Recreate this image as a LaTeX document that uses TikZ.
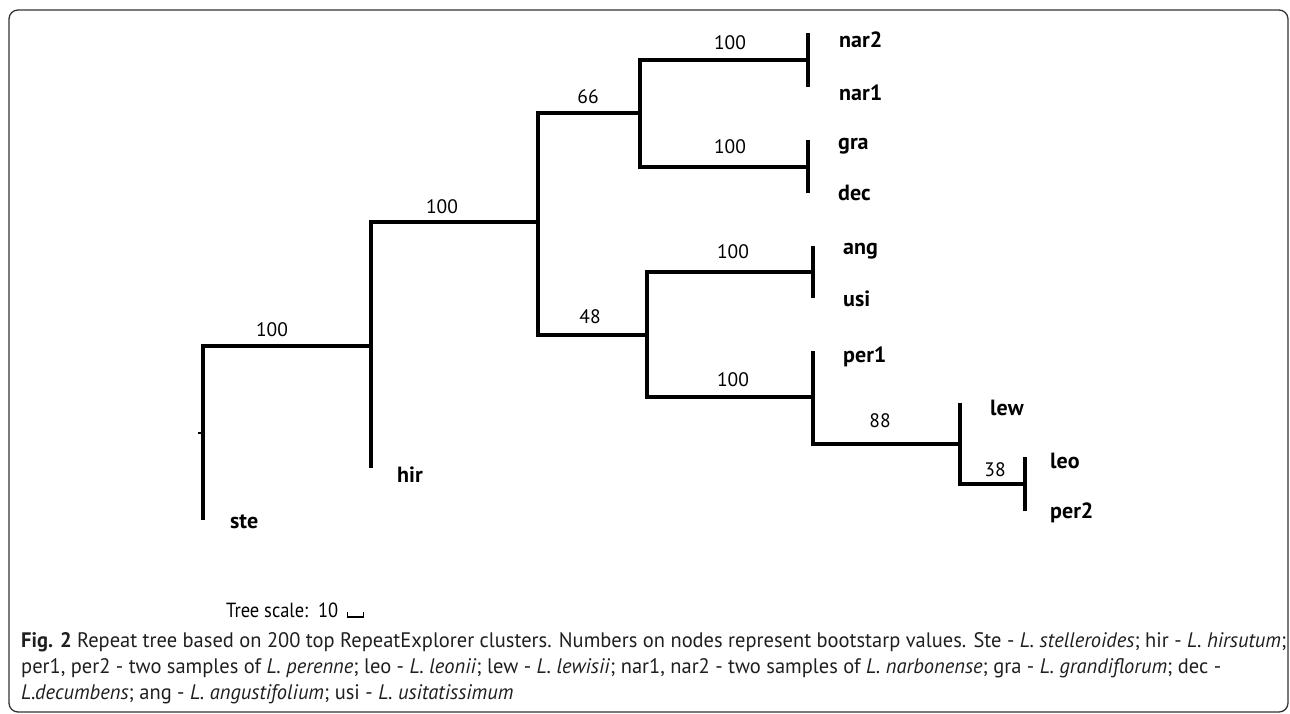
\documentclass[tikz,border=0pt]{standalone}
\usepackage{fontspec}
\setmainfont{PT Sans}
\newfontfamily\capfont[FakeStretch=0.975]{PT Sans}
\newfontfamily\tsfont[FakeStretch=0.9]{PT Sans}
\begin{document}
\begin{tikzpicture}[x=1pt,y=-1pt,
  branch/.style={line width=3.6pt,line join=miter,black},
  leaf/.style={anchor=base west,inner sep=0pt,font=\fontsize{22}{24}\selectfont\bfseries},
  boot/.style={inner sep=0pt,font=\fontsize{19.5}{22}\selectfont},
  capline/.style={anchor=base west,inner sep=0pt,text=black!88,font=\capfont\fontsize{21}{25}\selectfont}]
\useasboundingbox (0,0) rectangle (1290,713);
\draw[line width=1.3pt,black!80,rounded corners=9pt] (9,10) rectangle (1288,712);
% coordinates
\coordinate (n0t) at (203,346); \coordinate (n0b) at (203,520);
\coordinate (n1t) at (371,222); \coordinate (n1m) at (371,346); \coordinate (n1b) at (371,468);
\coordinate (n2t) at (538,113); \coordinate (n2m) at (538,222); \coordinate (n2b) at (538,335);
\coordinate (n3t) at (640,60); \coordinate (n3m) at (640,113); \coordinate (n3b) at (640,167);
\coordinate (n4t) at (647,272); \coordinate (n4m) at (647,335); \coordinate (n4b) at (647,397);
\coordinate (n5t) at (813,351); \coordinate (n5m) at (813,397); \coordinate (n5b) at (813,444);
\coordinate (n6t) at (960,403); \coordinate (n6m) at (960,444); \coordinate (n6b) at (960,484);
\coordinate (t1) at (808,60); \coordinate (t1a) at (808,33); \coordinate (t1b) at (808,87);
\coordinate (t2) at (808,167); \coordinate (t2a) at (808,140); \coordinate (t2b) at (808,193);
\coordinate (t3) at (813,272); \coordinate (t3a) at (813,246); \coordinate (t3b) at (813,298);
\coordinate (t4) at (1025,484); \coordinate (t4a) at (1025,457); \coordinate (t4b) at (1025,511);
\coordinate (tk) at (198,433);
% branches
\draw[branch] (n0b) -- (n0t) -- (n1m);
\draw[branch] (n1b) -- (n1t) -- (n2m);
\draw[branch] (n3m) -- (n2t) -- (n2b) -- (n4m);
\draw[branch] (t1) -- (n3t) -- (n3b) -- (t2);
\draw[branch] (t3) -- (n4t) -- (n4b) -- (n5m);
\draw[branch] (n5t) -- (n5b) -- (n6m);
\draw[branch] (n6t) -- (n6b) -- (t4);
\draw[branch] (t1a) -- (t1b);
\draw[branch] (t2a) -- (t2b);
\draw[branch] (t3a) -- (t3b);
\draw[branch] (t4a) -- (t4b);
\draw[line width=2pt] (tk) -- (n0t |- tk);
% leaf labels
\node[leaf] (nar2) at (839,47) {nar2};
\node[leaf] (nar1) at (839,100) {nar1};
\node[leaf] (gra) at (838,149) {gra};
\node[leaf] (dec) at (838,200) {dec};
\node[leaf] (ang) at (843,254) {ang};
\node[leaf] (usi) at (843,306) {usi};
\node[leaf] (per1) at (843,362) {per1};
\node[leaf] (lew) at (990,415) {lew};
\node[leaf] (leo) at (1050,468) {leo};
\node[leaf] (per2) at (1050,518) {per2};
\node[leaf] (hir) at (397,482) {hir};
\node[leaf] (ste) at (230,528) {ste};
% bootstrap values
\node[boot] (b1) at (272,330) {100};
\node[boot] (b2) at (442,207) {100};
\node[boot] (b3) at (588,97) {66};
\node[boot] (b4) at (730,43) {100};
\node[boot] (b5) at (730,147) {100};
\node[boot] (b6) at (733,252) {100};
\node[boot] (b7) at (590,317) {48};
\node[boot] (b8) at (733,380) {100};
\node[boot] (b9) at (880,421) {88};
\node[boot] (b10) at (995,470) {38};
% tree scale
\node[anchor=base west,inner sep=0pt,font=\tsfont\fontsize{20.5}{24}\selectfont] (tsc) at (226,617) {Tree scale:\ \ 10};
\draw[line width=1.6pt] ([xshift=9pt,yshift=5pt]tsc.base east) -- ([xshift=9pt]tsc.base east) -- ([xshift=25pt]tsc.base east) -- ([xshift=25pt,yshift=5pt]tsc.base east);
% caption
\node[capline] (c1) at (21,647) {\textbf{Fig. 2} Repeat tree based on 200 top RepeatExplorer clusters. Numbers on nodes represent bootstarp values. Ste - \textit{L. stelleroides}; hir - \textit{L. hirsutum};};
\node[capline] (c2) at (21,673) {per1, per2 - two samples of \textit{L. perenne}; leo - \textit{L. leonii}; lew - \textit{L. lewisii}; nar1, nar2 - two samples of \textit{L. narbonense}; gra - \textit{L. grandiflorum}; dec -};
\node[capline] (c3) at (21,699) {\textit{L.decumbens}; ang - \textit{L. angustifolium}; usi - \textit{L. usitatissimum}};
\end{tikzpicture}
\end{document}
